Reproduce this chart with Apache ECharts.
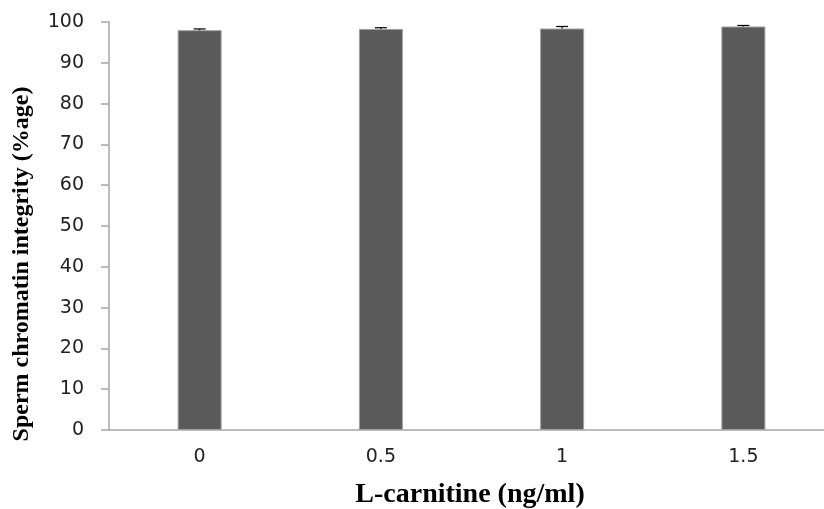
<!DOCTYPE html>
<html><head><meta charset="utf-8">
<script src="https://cdn.jsdelivr.net/npm/echarts@6/dist/echarts.min.js"></script>
<style>html,body{margin:0;padding:0;background:#fff}#c{width:824px;height:509px}</style>
</head><body><div id="c"></div>
<script>
const categories = ['0', '0.5', '1', '1.5'];
const values = [98.0, 98.3, 98.4, 98.9];
const errors = [0.3, 0.3, 0.5, 0.25];
const yTicks = [0, 10, 20, 30, 40, 50, 60, 70, 80, 90, 100];
const xTitle = 'L-carnitine (ng/ml)';
const yTitle = 'Sperm chromatin integrity (%age)';

const chart = echarts.init(document.getElementById('c'));
chart.setOption({
  animation: false,
  grid: { left: 109, right: -10, top: 22, bottom: 79, containLabel: false, outerBoundsMode: 'none' },
  xAxis: {
    type: 'category', data: categories,
    axisLine: { lineStyle: { color: '#a6a6a6', width: 1.5 } },
    axisTick: { show: false },
    axisLabel: { fontFamily: 'DejaVu Sans', fontSize: 19, color: '#222', margin: 18 }
  },
  yAxis: {
    type: 'value', min: yTicks[0], max: yTicks[yTicks.length - 1], interval: 10,
    axisLine: { show: true, lineStyle: { color: '#a6a6a6', width: 1.5 } },
    axisTick: { show: true, length: 8, lineStyle: { color: '#a6a6a6', width: 1.5 } },
    splitLine: { show: false },
    axisLabel: { fontFamily: 'DejaVu Sans', fontSize: 19, color: '#222', margin: 25 }
  },
  graphic: [
    { type: 'text', x: 470, y: 495, style: { text: xTitle, fontFamily: 'Liberation Serif', fontWeight: 'bold', fontSize: 28, fill: '#000', textAlign: 'center', textVerticalAlign: 'middle' } },
    { type: 'text', x: 22, y: 264, rotation: Math.PI / 2, style: { text: yTitle, fontFamily: 'Liberation Serif', fontWeight: 'bold', fontSize: 24, fill: '#000', textAlign: 'center', textVerticalAlign: 'middle' } }
  ],
  series: [
    {
      type: 'bar', data: values, barWidth: 44,
      itemStyle: { color: '#5a5a5a', borderColor: '#a0a0a0', borderWidth: 1 }
    },
    {
      type: 'custom', z: 5,
      data: values.map((v, i) => [i, v, errors[i]]),
      renderItem: function (params, api) {
        const x = api.value(0), v = api.value(1), e = api.value(2);
        const top = api.coord([x, v + e]);
        const base = api.coord([x, v]);
        const hw = 6;
        return {
          type: 'group', children: [
            { type: 'line', shape: { x1: top[0], y1: top[1], x2: base[0], y2: base[1] }, style: { stroke: '#000', lineWidth: 1.2 } },
            { type: 'line', shape: { x1: top[0] - hw, y1: top[1], x2: top[0] + hw, y2: top[1] }, style: { stroke: '#000', lineWidth: 1.2 } }
          ]
        };
      }
    }
  ]
});
</script></body></html>
